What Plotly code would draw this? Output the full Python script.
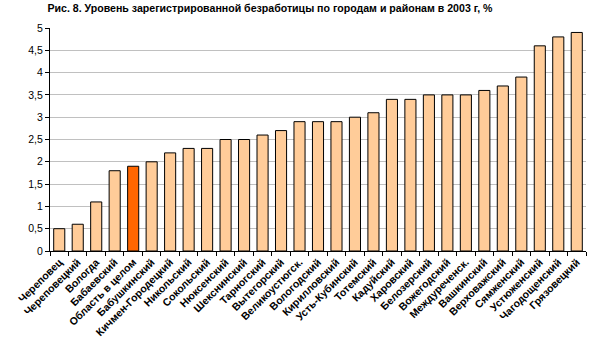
import plotly.graph_objects as go

categories = ["Череповец", "Череповецкий", "Вологда", "Бабаевский", "Область в целом",
              "Бабушкинский", "Кичмен-Городецкий", "Никольский", "Сокольский", "Нюксенский",
              "Шекснинский", "Тарногский", "Вытегорский", "Великоустюгск.", "Вологодский",
              "Кирилловский", "Усть-Кубинский", "Тотемский", "Кадуйский", "Харовский",
              "Белозерский", "Вожегодский", "Междуреченск.", "Вашкинский", "Верховажский",
              "Сямженский", "Устюженский", "Чагодощенский", "Грязовецкий"]
values = [0.5, 0.6, 1.1, 1.8, 1.9, 2.0, 2.2, 2.3, 2.3, 2.5, 2.5, 2.6, 2.7, 2.9, 2.9,
          2.9, 3.0, 3.1, 3.4, 3.4, 3.5, 3.5, 3.5, 3.6, 3.7, 3.9, 4.6, 4.8, 4.9]
highlight = "Область в целом"
title = "Рис. 8. Уровень зарегистрированной безработицы по городам и районам в 2003 г, %"

colors = ["#FF6600" if c == highlight else "#FFCC99" for c in categories]
ticktext = ["<b>" + c + "</b>" for c in categories]

fig = go.Figure(go.Bar(
    x=categories, y=values,
    marker=dict(color=colors, line=dict(color="black", width=1)),
    width=0.6,
))

fig.update_layout(
    width=594, height=358,
    margin=dict(l=50, r=8, t=28, b=107, autoexpand=False),
    paper_bgcolor="white", plot_bgcolor="white",
    separators=", ",
    font=dict(family="Liberation Sans, Arial, sans-serif", size=10, color="black"),
    title=dict(text="<b>" + title + "</b>", x=0.4545, xanchor="center", y=0.987, yanchor="top",
               pad=dict(t=0, b=0), font=dict(size=10.6)),
    showlegend=False,
    bargap=0.4,
)
fig.update_xaxes(
    type="category", tickangle=-45, showline=True, linecolor="black", linewidth=1,
    ticks="outside", tickson="boundaries", ticklen=4, tickcolor="black",
    tickmode="array", tickvals=categories, ticktext=ticktext,
    tickfont=dict(size=10.5), showgrid=False, automargin=False,
)
fig.update_yaxes(
    range=[0, 5], dtick=0.5, showline=True, linecolor="black", linewidth=1,
    ticks="outside", ticklen=4, tickcolor="black",
    showgrid=True, gridcolor="#C0C0C0", gridwidth=1, zeroline=False,
    tickfont=dict(size=10.5), automargin=False,
)

fig.write_html("out.html", config={"displayModeBar": False},
               post_script="document.body.style.margin='0';document.body.style.overflow='hidden';")
